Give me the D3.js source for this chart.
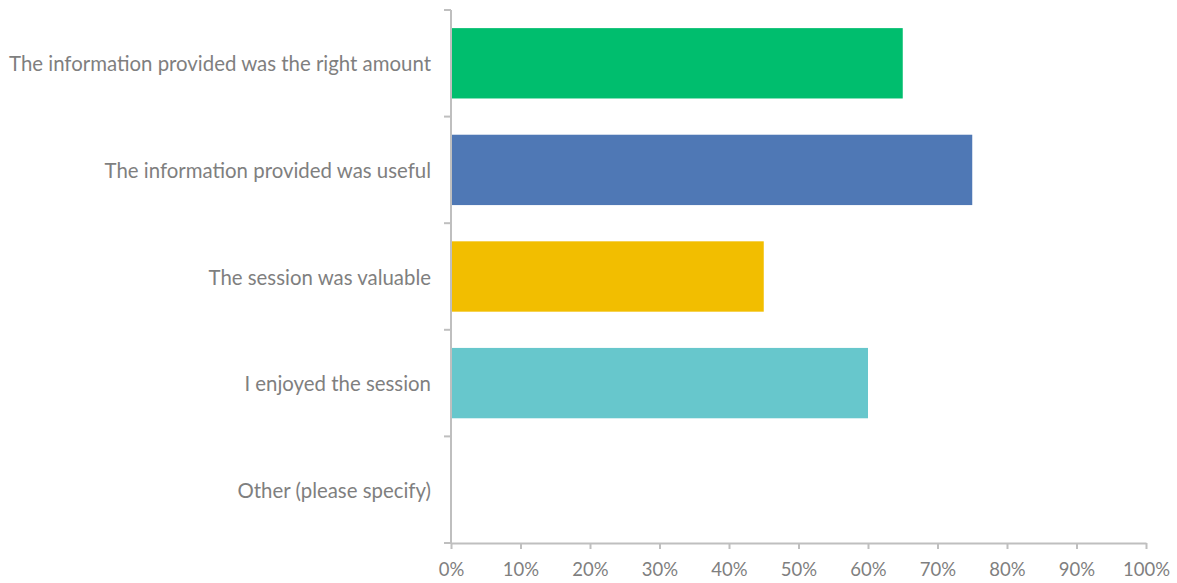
<!DOCTYPE html>
<html>
<head>
<meta charset="utf-8">
<script src="https://cdn.jsdelivr.net/npm/d3@7"></script>
<style>
  html, body { margin: 0; padding: 0; background: #fff; }
  svg { display: block; }
  .lbl { font-family: Lato, "Open Sans", sans-serif; fill: #7f7f7f; }
</style>
</head>
<body>
<svg id="chart" width="1177" height="583"></svg>
<script>
// Survey responses: share of respondents agreeing with each statement
const categories = [
  "The information provided was the right amount",
  "The information provided was useful",
  "The session was valuable",
  "I enjoyed the session",
  "Other (please specify)"
];
const values = [0.65, 0.75, 0.45, 0.60, 0];
const colors = ["#00BE6E", "#4F78B5", "#F2BE00", "#67C7CC", "#A5A5A5"];
const xTicks = [0, 0.1, 0.2, 0.3, 0.4, 0.5, 0.6, 0.7, 0.8, 0.9, 1.0];

const svg = d3.select("#chart");
const plotLeft = 451, plotRight = 1146, plotTop = 10, plotBottom = 543;
const axisColor = "#bfbfbf";

const x = d3.scaleLinear().domain([0, 1]).range([plotLeft, plotRight]);
const y = d3.scaleBand().domain(categories).range([plotTop, plotBottom])
  .paddingInner(0.34).paddingOuter(0.17);

// Bars
svg.append("g").selectAll("rect")
  .data(categories)
  .join("rect")
  .attr("x", x(0))
  .attr("y", d => y(d))
  .attr("width", (d, i) => x(values[i]) - x(0))
  .attr("height", y.bandwidth())
  .attr("fill", (d, i) => colors[i]);

// X axis
const xAxis = d3.axisBottom(x)
  .tickValues(xTicks)
  .tickFormat(d3.format(".0%"))
  .tickSize(6)
  .tickSizeOuter(0);
const gx = svg.append("g").attr("transform", `translate(0,${plotBottom})`).call(xAxis);
gx.select(".domain").attr("stroke", axisColor).attr("stroke-width", 2);
gx.selectAll(".tick line").attr("stroke", axisColor).attr("stroke-width", 2);
gx.selectAll(".tick text")
  .attr("class", "lbl")
  .attr("font-size", 18.5)
  .attr("y", 20)
  .attr("dy", "0.71em");

// Y axis: line with ticks at band boundaries
const gy = svg.append("g");
gy.append("line")
  .attr("x1", plotLeft).attr("x2", plotLeft)
  .attr("y1", plotTop).attr("y2", plotBottom)
  .attr("stroke", axisColor).attr("stroke-width", 2);
const step = y.step();
const boundaries = d3.range(categories.length + 1).map(i => plotTop + i * step);
gy.selectAll(".ytick")
  .data(boundaries)
  .join("line")
  .attr("class", "ytick")
  .attr("x1", plotLeft - 7).attr("x2", plotLeft)
  .attr("y1", d => d).attr("y2", d => d)
  .attr("stroke", axisColor).attr("stroke-width", 2);

gy.selectAll(".ylabel")
  .data(categories)
  .join("text")
  .attr("class", "lbl")
  .attr("x", plotLeft - 20)
  .attr("y", d => y(d) + y.bandwidth() / 2)
  .attr("text-anchor", "end")
  .attr("dominant-baseline", "central")
  .attr("font-size", 20.4)
  .text(d => d);
</script>
</body>
</html>
